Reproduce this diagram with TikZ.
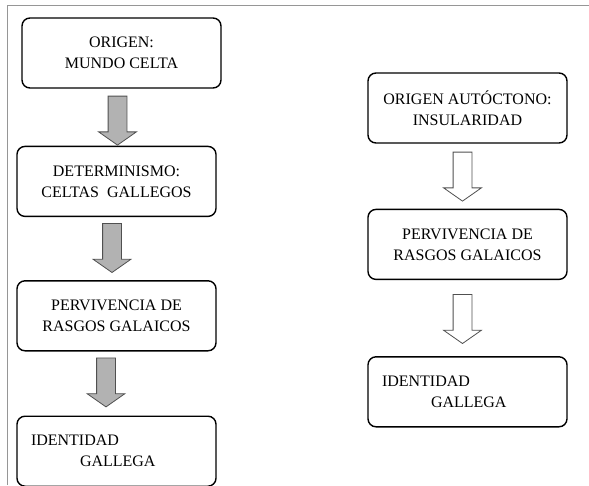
\documentclass[tikz,border=0pt]{standalone}
\usepackage{fontspec}
\setmainfont{Liberation Serif}
\usetikzlibrary{positioning,shapes.arrows}
\definecolor{framegray}{RGB}{150,150,150}
\definecolor{arrowgray}{RGB}{178,178,178}
\definecolor{edgegray}{RGB}{80,80,80}

\begin{document}
\begin{tikzpicture}[x=1pt,y=-1pt,box/.style={draw,line width=1.4pt,rounded corners=8pt,align=center,minimum width=199pt,minimum height=70pt,font=\fontsize{16}{21}\selectfont},idbox/.style={box,align=left,text width=171pt},blockarr/.style={single arrow,draw=edgegray,line width=0.8pt,shape border rotate=270,minimum height=49pt,inner sep=9pt,single arrow head extend=9.5pt,single arrow tip angle=110},grayarr/.style={blockarr,fill=arrowgray},whitearr/.style={blockarr,fill=white}]
\useasboundingbox(0,0)rectangle(589,485);
\draw[framegray,line width=0.8pt](7,485)--(7,5)--(589,5);
% left column
\node[box](celta)at(121.5,53){ORIGEN:\\MUNDO CELTA};
\node[box,below=57pt of celta,xshift=-5pt](determ){DETERMINISMO:\\CELTAS~ GALLEGOS};
\node[box,below=63pt of determ](rasgos){PERVIVENCIA DE\\RASGOS GALAICOS};
\node[idbox,below=64pt of rasgos](ident){IDENTIDAD\\\hspace*{49pt}GALLEGA};
\node[grayarr,below=7pt of celta,anchor=tail,xshift=-4pt](a1){};
\node[grayarr,below=6pt of determ,anchor=tail,xshift=-4.5pt](a2){};
\node[grayarr,below=6pt of rasgos,anchor=tail,xshift=-10.5pt](a3){};
% right column
\node[box](insul)at(467.5,108){ORIGEN AUTÓCTONO:\\INSULARIDAD};
\node[box,below=65pt of insul](rasgosR){PERVIVENCIA DE\\RASGOS GALAICOS};
\node[idbox,below=76pt of rasgosR](identR){IDENTIDAD\\\hspace*{49pt}GALLEGA};
\node[whitearr,below=8pt of insul,anchor=tail,xshift=-5pt](b1){};
\node[whitearr,below=14pt of rasgosR,anchor=tail,xshift=-5pt](b2){};
\end{tikzpicture}
\end{document}
